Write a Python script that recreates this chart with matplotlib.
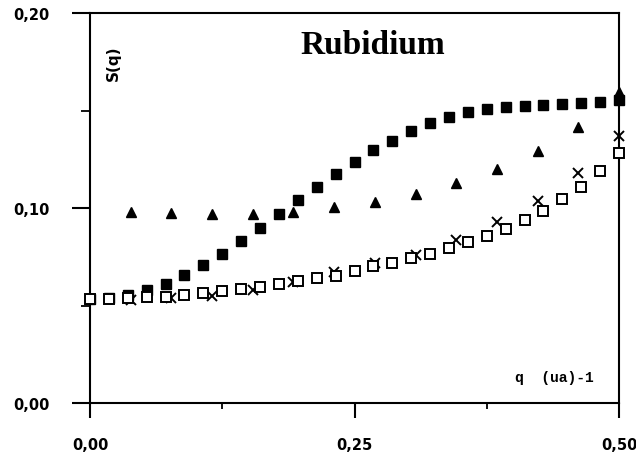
import matplotlib
matplotlib.use("Agg")
import matplotlib.pyplot as plt
import numpy as np
from matplotlib.ticker import FixedLocator

# ---- data ----
# fine grid (29 points, step 0.5/28)
q_fine = [i * 0.5 / 28 for i in range(29)]
s_open = [0.0533, 0.0535, 0.0538, 0.0542, 0.0546, 0.0553, 0.0562, 0.0573,
          0.0586, 0.0596, 0.0609, 0.0628, 0.0642, 0.0652, 0.0678, 0.0701,
          0.0718, 0.0742, 0.0764, 0.0793, 0.0824, 0.0855, 0.0892, 0.0938,
          0.0986, 0.1046, 0.1109, 0.1188, 0.1282]
s_filled = [0.0535, 0.0540, 0.0554, 0.0582, 0.0610, 0.0658, 0.0709, 0.0766,
            0.0831, 0.0896, 0.0969, 0.1041, 0.1106, 0.1174, 0.1238, 0.1297,
            0.1345, 0.1393, 0.1434, 0.1465, 0.1491, 0.1508, 0.1516, 0.1525,
            0.1528, 0.1533, 0.1538, 0.1542, 0.1555]
# coarse grid (step 0.5/13)
q_coarse = [k * 0.5 / 13 for k in range(1, 14)]
s_tri = [0.0978, 0.0973, 0.0967, 0.0969, 0.0978, 0.1004, 0.1029, 0.1072,
         0.1128, 0.1200, 0.1294, 0.1414, 0.1593]
s_cross = [0.0530, 0.0537, 0.0551, 0.0581, 0.0619, 0.0672, 0.0718, 0.0759,
           0.0836, 0.0927, 0.1037, 0.1182, 0.1371]

x_ticks = [0.0, 0.25, 0.5]
x_ticklabels = ["0,00", "0,25", "0,50"]
y_ticks = [0.0, 0.10, 0.20]
y_ticklabels = ["0,00", "0,10", "0,20"]

fig = plt.figure(figsize=(6.36, 4.56), dpi=100)
ax = fig.add_axes([90 / 636, 1 - 404 / 456, 529 / 636, 390 / 456])
ax.set_xlim(0, 0.5)
ax.set_ylim(0, 0.20)

ax.plot(q_fine, s_filled, ls="none", marker="s", ms=7.2, mfc="black",
        mec="black", clip_on=False, zorder=3)
ax.plot(q_coarse, s_tri, ls="none", marker="^", ms=7.5, mfc="black",
        mec="black", clip_on=False, zorder=4)
ax.plot(q_coarse, s_cross, ls="none", marker="x", ms=6.5, mew=1.4,
        color="black", clip_on=False, zorder=5)
ax.plot(q_fine, s_open, ls="none", marker="s", ms=6.5, mfc="white",
        mec="black", mew=1.4, clip_on=False, zorder=6)

for side in ["left", "right", "top", "bottom"]:
    ax.spines[side].set_linewidth(1.5)

ax.xaxis.set_major_locator(FixedLocator(x_ticks))
ax.xaxis.set_minor_locator(FixedLocator([0.125, 0.375]))
ax.yaxis.set_major_locator(FixedLocator(y_ticks))
ax.yaxis.set_minor_locator(FixedLocator([0.05, 0.15]))
ax.set_xticklabels(x_ticklabels)
ax.set_yticklabels(y_ticklabels)

ax.tick_params(axis="y", which="major", direction="out", length=13, width=1.5, pad=16)
ax.tick_params(axis="y", which="minor", direction="out", length=6.5, width=1.3)
ax.tick_params(axis="x", which="major", direction="out", length=10.5, width=1.5, pad=14)
ax.tick_params(axis="x", which="minor", direction="out", length=4, width=1.3)
for lab in ax.get_xticklabels() + ax.get_yticklabels():
    lab.set_fontweight("bold")
    lab.set_fontsize(10.5)
    lab.set_family("DejaVu Sans")

ax.text(0.535, 0.92, "Rubidium", transform=ax.transAxes, ha="center",
        va="center", fontsize=24, fontweight="bold", family="Liberation Serif")
ax.text((113 - 90) / 529, (404 - 63) / 390, "S(q)", transform=ax.transAxes, ha="center",
        va="center", rotation=90, fontsize=11, fontweight="bold", family="DejaVu Sans")
ax.text((554 - 90) / 529, (404 - 378) / 390, "q  (ua)-1", transform=ax.transAxes,
        ha="center", va="center", fontsize=10.5, fontweight="bold",
        family="Liberation Mono")

fig.savefig("out.png", dpi=100)
